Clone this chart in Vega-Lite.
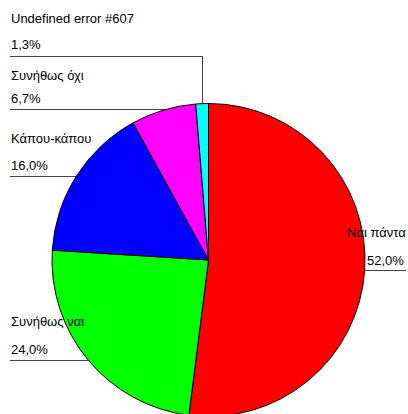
{
  "$schema": "https://vega.github.io/schema/vega-lite/v6.json",
  "width": 417,
  "height": 520,
  "autosize": {"type": "none"},
  "padding": 0,
  "background": "white",
  "config": {"view": {"stroke": null}},
  "data": {
    "values": [
      {"category": "Ναι πάντα", "value": 52.0, "label": "52,0%"},
      {"category": "Συνήθως ναι", "value": 24.0, "label": "24,0%"},
      {"category": "Κάπου-κάπου", "value": 16.0, "label": "16,0%"},
      {"category": "Συνήθως όχι", "value": 6.7, "label": "6,7%"},
      {"category": "Undefined error #607", "value": 1.3, "label": "1,3%"}
    ]
  },
  "layer": [
    {
      "mark": {"type": "tick", "orient": "horizontal", "thickness": 1, "color": "#444444", "opacity": 1},
      "encoding": {
        "x": {"field": "value", "type": "quantitative", "axis": null,
              "scale": {"domain": [1.3, 6.7, 16, 24, 52], "range": [106, 88, 45, 50, 384], "zero": false, "nice": false}},
        "y": {"field": "value", "type": "quantitative", "axis": null,
              "scale": {"domain": [1.3, 6.7, 16, 24, 52], "range": [56.5, 109.5, 176.5, 360.5, 270.5], "zero": false, "nice": false}},
        "size": {"field": "value", "type": "quantitative", "legend": null,
              "scale": {"domain": [1.3, 6.7, 16, 24, 52], "range": [192, 156, 70, 80, 44], "zero": false, "nice": false}}
      }
    },
    {
      "transform": [{"filter": "datum.value < 2"}],
      "mark": {"type": "tick", "orient": "vertical", "thickness": 1, "color": "#444444", "opacity": 1},
      "encoding": {
        "x": {"field": "value", "type": "quantitative", "axis": null,
              "scale": {"domain": [0, 1.3], "range": [0, 202.5], "zero": false, "nice": false}},
        "y": {"field": "value", "type": "quantitative", "axis": null,
              "scale": {"domain": [0, 1.3], "range": [0, 81], "zero": false, "nice": false}},
        "size": {"field": "value", "type": "quantitative", "legend": null,
              "scale": {"domain": [0, 1.3], "range": [0, 50], "zero": false, "nice": false}}
      }
    },
    {
      "mark": {"type": "arc", "radius": 156.5, "stroke": "black", "strokeWidth": 1},
      "encoding": {
        "theta": {"field": "value", "type": "quantitative", "stack": true},
        "order": {"field": "value", "sort": "descending"},
        "color": {"field": "category", "type": "nominal", "legend": null,
                  "scale": {"domain": ["Ναι πάντα", "Συνήθως ναι", "Κάπου-κάπου", "Συνήθως όχι", "Undefined error #607"],
                            "range": ["#FF0000", "#00FF00", "#0000FF", "#FF00FF", "#00FFFF"]}}
      }
    },
    {
      "mark": {"type": "text", "align": "left", "baseline": "alphabetic", "font": "Liberation Sans", "fontSize": 13, "color": "black"},
      "encoding": {
        "x": {"field": "value", "type": "quantitative", "axis": null,
              "scale": {"domain": [1.3, 6.7, 16, 24, 52], "range": [11, 11, 11, 11, 347], "zero": false, "nice": false}},
        "y": {"field": "value", "type": "quantitative", "axis": null,
              "scale": {"domain": [1.3, 6.7, 16, 24, 52], "range": [23, 80, 143, 326, 237], "zero": false, "nice": false}},
        "text": {"field": "category"}
      }
    },
    {
      "mark": {"type": "text", "align": "left", "baseline": "alphabetic", "font": "Liberation Sans", "fontSize": 13, "color": "black"},
      "encoding": {
        "x": {"field": "value", "type": "quantitative", "axis": null,
              "scale": {"domain": [1.3, 6.7, 16, 24, 52], "range": [11, 11, 11, 11, 367], "zero": false, "nice": false}},
        "y": {"field": "value", "type": "quantitative", "axis": null,
              "scale": {"domain": [1.3, 6.7, 16, 24, 52], "range": [49, 103, 170, 354, 265], "zero": false, "nice": false}},
        "text": {"field": "label"}
      }
    }
  ],
  "resolve": {"scale": {"x": "independent", "y": "independent", "size": "independent", "color": "independent"}}
}
